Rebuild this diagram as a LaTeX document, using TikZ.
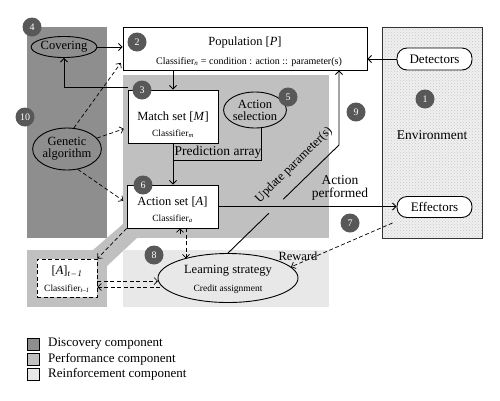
\documentclass[tikz,border=0pt]{standalone}
\usepackage{fontspec}
\setmainfont{Liberation Serif}
\usetikzlibrary{arrows.meta,patterns,shapes.geometric}
\definecolor{disc}{RGB}{142,142,142}
\definecolor{perf}{RGB}{192,192,192}
\definecolor{reinf}{RGB}{232,232,232}
\definecolor{numc}{RGB}{88,88,88}
\begin{document}
\begin{tikzpicture}[x=1pt,y=-1pt,
 bx/.style={draw, line width=0.9pt, fill=white, inner sep=0pt},
 ell/.style={ellipse, draw, line width=0.9pt, inner sep=0pt, align=center},
 num/.style={circle, fill=numc, text=white, inner sep=0pt, minimum size=19pt, font=\fontsize{10}{10}\selectfont},
 big/.style={font=\fontsize{12.5}{14}\selectfont},
 bigger/.style={font=\fontsize{13.5}{14.5}\selectfont},
 sm/.style={font=\fontsize{9.5}{10}\selectfont},
 arr/.style={-{Straight Barb[length=3.5pt,width=7pt]}, line width=0.9pt},
 darr/.style={-{Straight Barb[length=3.5pt,width=7pt]}, dash pattern=on 4pt off 2.5pt, line width=0.7pt},
 ln/.style={line width=0.9pt},
 leg/.style={draw, line width=0.6pt, minimum size=12pt, inner sep=0pt},
 legt/.style={anchor=west, font=\fontsize{13}{14}\selectfont, inner sep=0pt}
]
\useasboundingbox (0,0) rectangle (500,400);
% component regions
\fill[disc] (27,27) rectangle (107,238);
\fill[perf] (123,75) rectangle (329,238);
\fill[perf] (27,250) rectangle (107,307);
\fill[perf] (123,224) -- (137,238) -- (107,266) -- (93,250) -- cycle;
\fill[reinf] (123,250) rectangle (329,307);
% environment
\fill[gray!12] (382,27) rectangle (482,238);
\fill[pattern=crosshatch dots, pattern color=gray!45] (382,27) rectangle (482,238);
\draw[line width=0.8pt, gray!40!black] (382,27) rectangle (482,238);
\node[bigger] (envt) at (432,135) {Environment};
% boxes
\node[bx, minimum width=244pt, minimum height=43pt] (pop) at (245,48.5) {};
\node[big] (popt) at (245,42) {Population [\textit{P}]};
\node[font=\fontsize{10}{11}\selectfont] (pops) at (249,62) {Classifier\textsubscript{\textit{n}} = condition : action :: parameter(s)};
\node[bx, minimum width=90pt, minimum height=53pt] (match) at (173,116.5) {};
\node[big] (matcht) at (173,117) {Match set [\textit{M}]};
\node[sm] (matchs) at (173,134) {Classifier\textsubscript{\textit{m}}};
\node[bx, minimum width=91pt, minimum height=43pt] (act) at (172.5,206.5) {};
\node[big] (actt) at (172.5,202) {Action set [\textit{A}]};
\node[sm] (acts) at (172.5,219) {Classifier\textsubscript{\textit{a}}};
\node[bx, dash pattern=on 4pt off 2.5pt, minimum width=60pt, minimum height=38pt] (at) at (67,278) {};
\node[big] (att) at (67,271) {[\textit{A}]\textsubscript{\textit{t}\,--\,\textit{1}}};
\node[sm] (ats) at (67,289) {Classifier\textsubscript{\textit{t}--\textit{1}}};
\node[bx, rounded corners=10pt, minimum width=75pt, minimum height=22pt, font=\fontsize{13}{14}\selectfont] (det) at (434.5,59) {Detectors};
\node[bx, rounded corners=10pt, minimum width=75pt, minimum height=21pt, font=\fontsize{13}{14}\selectfont] (eff) at (434.5,207) {Effectors};
% ellipses
\node[ell, fill=disc, minimum width=64pt, minimum height=21pt, big] (cover) at (64,47) {Covering};
\node[ell, fill=disc, minimum width=68pt, minimum height=42pt, big] (ga) at (67,149) {Genetic\\[-2pt]algorithm};
\node[ell, fill=perf, minimum width=56pt, minimum height=36pt, big] (asel) at (255,110) {Action\\[-2pt]selection};
\node[ell, fill=reinf, minimum width=140pt, minimum height=49pt] (learn) at (228,278) {};
\node[big] (learnt) at (228,271) {Learning strategy};
\node[sm] (learns) at (228,289) {Credit assignment};
% solid connectors
\draw[arr] (cover.east) -- (cover.east -| pop.west);
\draw[arr] (det.west) -- (det.west -| pop.east);
\draw[arr] (pop.south -| match.north) -- (match.north);
\draw[arr] ([yshift=2pt]match.north west) -| (cover.south);
\draw[arr] (match.south) -- (match.south |- act.north);
\coordinate (pajoin) at (173,160);
\draw[ln] (asel.290) |- (pajoin);
\node[bigger, anchor=south, inner sep=1pt] (pat) at (218,160) {Prediction array};
\coordinate (upbend) at (339,145);
\draw[arr] (learn.north) -- (upbend) -- (upbend |- pop.south);
\draw[perf, line width=4pt] (283.5,199.5) -- (269.5,213.5);
\draw[arr] (act.east) -- (act.east -| eff.west);
\node[bigger, align=center] (actp) at (340,188) {Action\\[-2pt]performed};
\node[big, rotate=44.5] (upd) at (294,165) {Update parameter(s)};
% dashed connectors
\draw[darr, shorten >=3pt] (ga.72) -- ([yshift=-12pt]pop.west);
\draw[darr, shorten >=4pt] (ga.20) -- ([yshift=-11pt]match.west);
\draw[darr, shorten >=4pt] (ga.-62) -- ([yshift=3.5pt]act.west);
\draw[darr] (act.south west) -- (at.north east);
\draw[darr] ([xshift=7.5pt]learn.north -| act.south) ++(0,-19) -- ([xshift=7.5pt]act.south);
\draw[darr] ([xshift=13.5pt]act.south) -- ++(0,30);
\draw[darr] (at.east |- 0,281) -- (158,281);
\draw[darr] (160,287) -- (at.east |- 0,287);
\draw[darr] ([shift={(-4pt,-5pt)}]eff.south west) -- (learn.10);
\node[big] (rew) at (298,256) {Reward};
% numbers
\node[num] (n1) at (425,99) {1};
\node[num] (n2) at (137,42) {2};
\node[num] (n3) at (142,90) {3};
\node[num] (n4) at (32,27) {4};
\node[num] (n5) at (288,97) {5};
\node[num] (n6) at (143,185) {6};
\node[num] (n7) at (350,223) {7};
\node[num] (n8) at (154,255) {8};
\node[num] (n9) at (356,112) {9};
\node[num] (n10) at (25,117) {10};
% legend
\node[leg, fill=disc] (lg1) at (33.5,344) {};
\node[leg, fill=perf] (lg2) at (33.5,359) {};
\node[leg, fill=reinf] (lg3) at (33.5,374) {};
\node[legt] (lt1) at (48,344) {Discovery component};
\node[legt] (lt2) at (48,359) {Performance component};
\node[legt] (lt3) at (48,374) {Reinforcement component};
\end{tikzpicture}
\end{document}
